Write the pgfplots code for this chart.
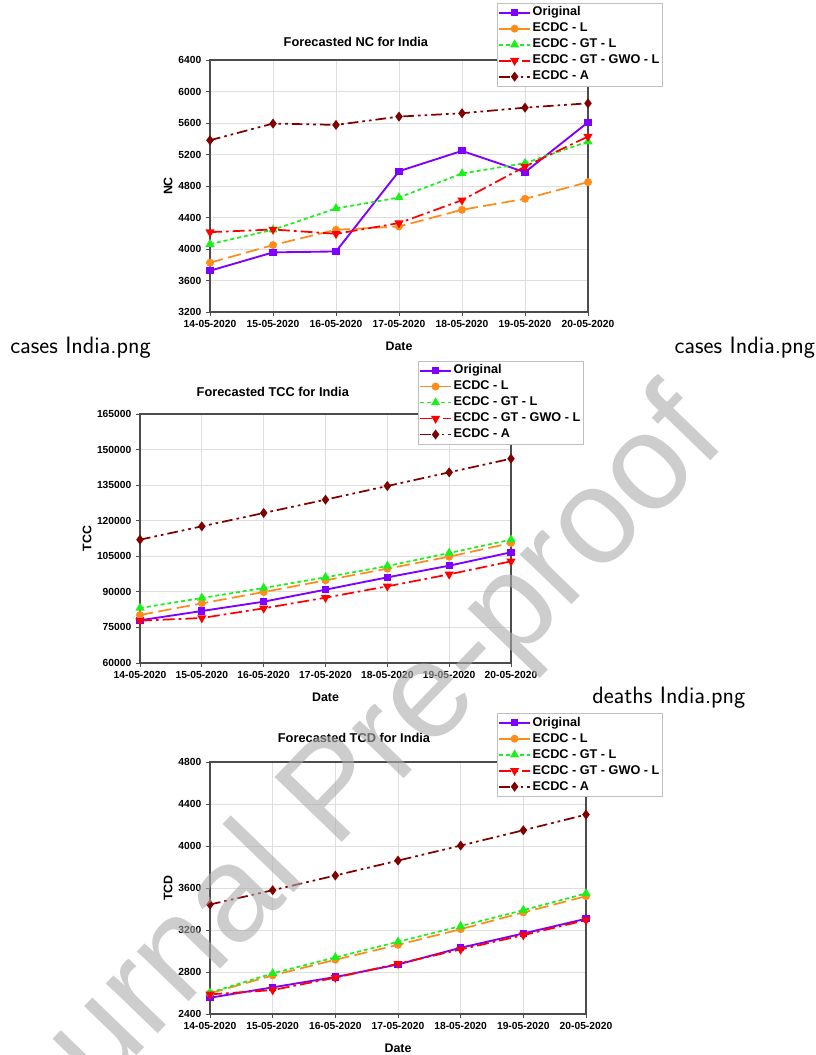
\documentclass[border=0pt]{standalone}
\usepackage{fontspec}
\setmainfont{Liberation Sans}
\usepackage{pgfplots}
\usepackage{pgfplotstable}
\pgfplotsset{compat=1.18}

\definecolor{corig}{HTML}{8000FF}
\definecolor{cl}{HTML}{FF8C1A}
\definecolor{cgt}{HTML}{1AF01A}
\definecolor{cgwo}{HTML}{FF0000}
\definecolor{ca}{HTML}{800000}

\pgfplotstableread{
x orig l gtl gwo a
0 3724 3826 4062 4214 5381
1 3957 4050 4244 4248 5593
2 3969 4244 4515 4193 5576
3 4988 4286 4654 4329 5681
4 5246 4498 4958 4620 5724
5 4975 4637 5090 5047 5795
6 5609 4849 5364 5428 5850
}\tnc

\pgfplotstableread{
x orig l gtl gwo a
0 78000 80241 83192 77851 112007
1 81927 85160 87409 78976 117630
2 85863 89939 91626 83052 123252
3 90923 94859 96124 87550 128874
4 96124 99778 100903 92329 134637
5 101044 104839 106385 97389 140400
6 106666 110602 112007 102871 146163
}\ttcc

\pgfplotstableread{
x orig l gtl gwo a
0 2555 2597 2603 2587 3443
1 2654 2768 2787 2628 3579
2 2752 2917 2939 2746 3719
3 2872 3059 3088 2879 3861
4 3031 3208 3237 3015 4004
5 3167 3367 3389 3151 4150
6 3307 3522 3548 3294 4299
}\ttcd

\pgfplotsset{
  fc/.style={
    scale only axis,
    anchor=south west,
    xmin=0, xmax=6,
    xtick={0,1,2,3,4,5,6},
    xticklabels={14-05-2020,15-05-2020,16-05-2020,17-05-2020,18-05-2020,19-05-2020,20-05-2020},
    grid=major,
    grid style={draw=black!13, line width=0.6pt},
    axis line style={draw=black!70, line width=0.9pt},
    tick style={draw=black!70, line width=0.7pt},
    tick align=outside,
    major tick length=3pt,
    tick pos=left,
    scaled y ticks=false,
    /pgf/number format/assume math mode=true,
    yticklabel={\pgfmathprintnumber[fixed,precision=0,1000 sep={}]{\tick}},
    ticklabel style={font=\fontsize{7.7}{9}\selectfont\bfseries},
    label style={font=\fontsize{9.3}{11}\selectfont\bfseries},
    title style={font=\fontsize{9.6}{11}\selectfont\bfseries, anchor=center},
    xlabel={Date},
    xlabel style={at={(axis description cs:0.5,0)}, anchor=center, yshift=-25.5pt},
    legend style={draw=black!25, fill=white, anchor=north west,
      font=\fontsize{9.5}{11}\selectfont\bfseries,
      inner xsep=1pt, inner ysep=1pt, row sep=0pt,
      nodes={inner sep=1.5pt, text height=7pt, text depth=2pt},
      legend cell align=left},
    legend image code/.code={\draw[mark repeat=2,mark phase=2,#1] plot coordinates {(0cm,0cm) (0.4cm,0cm) (0.8cm,0cm)};},
  },
  sorig/.style={color=corig, line width=1.4pt, mark=square*, mark size=2pt, mark options={solid}},
  sl/.style={color=cl, line width=1.3pt, dash pattern=on 10pt off 4pt, mark=*, mark size=2.3pt, mark options={solid}},
  sgt/.style={color=cgt, line width=1.3pt, dash pattern=on 3pt off 2.2pt, mark=triangle*, mark size=2.7pt, mark options={solid}},
  sgwo/.style={color=cgwo, line width=1.3pt, dash pattern=on 9pt off 3pt on 2pt off 3pt, mark=triangle*, mark size=2.7pt, mark options={solid, rotate=180}},
  sa/.style={color=ca, line width=1.3pt, dash pattern=on 8pt off 3pt on 2pt off 3pt on 2pt off 3pt, mark=diamond*, mark size=2.7pt, mark options={solid}},
}

\begin{document}
\begin{tikzpicture}
\useasboundingbox (0,0) rectangle (612pt,-791.25pt);

% ---------- Chart 1: NC ----------
\begin{axis}[fc,
  at={(157.5pt,-234pt)},
  width=283.5pt, height=189pt,
  ymin=3200, ymax=6400, ytick={3200,3600,...,6400},
  title={Forecasted NC for India},
  title style={at={(axis description cs:0.386,1)}, yshift=7.5pt},
  ylabel={NC},
  ylabel style={at={([xshift=-31.5pt]axis description cs:0,0.5)}, anchor=center},
  legend style={at={(0.759,1.226)}},
]
\addplot[sorig] table[x=x,y=orig]{\tnc};
\addplot[sl] table[x=x,y=l]{\tnc};
\addplot[sgt] table[x=x,y=gtl]{\tnc};
\addplot[sgwo] table[x=x,y=gwo]{\tnc};
\addplot[sa] table[x=x,y=a]{\tnc};
\legend{Original, ECDC - L, ECDC - GT - L, ECDC - GT - GWO - L, ECDC - A}
\end{axis}

% ---------- Chart 2: TCC ----------
\begin{axis}[fc,
  at={(105pt,-497.25pt)},
  width=278.25pt, height=186.75pt,
  ymin=60000, ymax=165000, ytick={60000,75000,...,165000},
  title={Forecasted TCC for India},
  title style={at={(axis description cs:0.358,1)}, yshift=10.5pt},
  ylabel={TCC},
  ylabel style={at={([xshift=-39.75pt]axis description cs:0,0.5)}, anchor=center},
  legend style={at={(0.749,1.213)}},
]
\addplot[sorig] table[x=x,y=orig]{\ttcc};
\addplot[sl] table[x=x,y=l]{\ttcc};
\addplot[sgt] table[x=x,y=gtl]{\ttcc};
\addplot[sgwo] table[x=x,y=gwo]{\ttcc};
\addplot[sa] table[x=x,y=a]{\ttcc};
\legend{Original, ECDC - L, ECDC - GT - L, ECDC - GT - GWO - L, ECDC - A}
\end{axis}

% ---------- Chart 3: TCD ----------
\begin{axis}[fc,
  at={(157.5pt,-760.5pt)},
  width=282pt, height=189pt,
  ymin=2400, ymax=4800, ytick={2400,2800,...,4800},
  title={Forecasted TCD for India},
  title style={at={(axis description cs:0.383,1)}, yshift=12pt},
  ylabel={TCD},
  ylabel style={at={([xshift=-31.5pt]axis description cs:0,0.5)}, anchor=center},
  legend style={at={(0.763,1.194)}},
]
\addplot[sorig] table[x=x,y=orig]{\ttcd};
\addplot[sl] table[x=x,y=l]{\ttcd};
\addplot[sgt] table[x=x,y=gtl]{\ttcd};
\addplot[sgwo] table[x=x,y=gwo]{\ttcd};
\addplot[sa] table[x=x,y=a]{\ttcd};
\legend{Original, ECDC - L, ECDC - GT - L, ECDC - GT - GWO - L, ECDC - A}
\end{axis}

% captions
\node[anchor=west, inner sep=0pt, font=\sffamily\fontsize{17.8}{20}\selectfont] at (7.5pt,-261pt) {cases India.png};
\node[anchor=east, inner sep=0pt, font=\sffamily\fontsize{17.8}{20}\selectfont] at (611.5pt,-261pt) {cases India.png};
\node[anchor=west, inner sep=0pt, font=\sffamily\fontsize{17.8}{20}\selectfont] at (444pt,-523.5pt) {deaths India.png};

% watermark
\node[rotate=46, text=black!33, opacity=0.6, font=\fontsize{102}{106}\selectfont] at (254pt,-597pt) {Journal Pre-proof};
\end{tikzpicture}
\end{document}
